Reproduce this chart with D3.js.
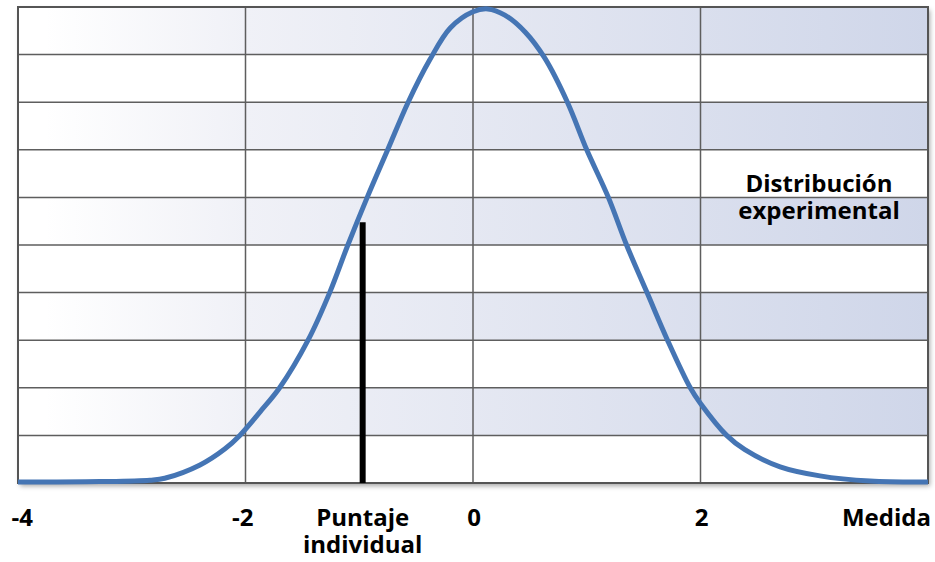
<!DOCTYPE html>
<html>
<head>
<meta charset="utf-8">
<script src="https://cdn.jsdelivr.net/npm/d3@7"></script>
<style>
  body { margin: 0; background: #fff; }
  text { font-family: "Open Sans", sans-serif; font-weight: 700; fill: #000; }
</style>
</head>
<body>
<script>
// curve: x in z units, y in grid bands (0..10)
var curveX = [-4.0, -3.28, -2.84, -2.71, -2.40, -2.18, -2.05, -1.87, -1.70, -1.45, -1.26, -1.10,
              -0.93, -0.75, -0.57, -0.38, -0.20, 0.0, 0.13, 0.28, 0.46, 0.63, 0.83, 1.0, 1.19, 1.35,
              1.53, 1.71, 1.91, 2.0, 2.23, 2.39, 2.70, 3.05, 3.49, 4.0];
var curveY = [0.02, 0.03, 0.06, 0.10, 0.38, 0.72, 1.0, 1.5, 2.0, 3.0, 4.0, 5.0,
              6.0, 7.0, 8.0, 8.89, 9.56, 9.9, 9.96, 9.83, 9.47, 8.93, 8.0, 7.0, 6.0, 5.0,
              4.0, 3.0, 2.0, 1.67, 1.0, 0.7, 0.34, 0.15, 0.04, 0.02];

var xTicks = [-4, -2, 0, 2];
var yBands = d3.range(0, 11); // 10 bands
var score = { x: -0.97, y: 5.48 };
var scoreLabel = ['Puntaje', 'individual'];
var curveLabel = ['Distribución', 'experimental'];

var width = 935, height = 562;
// plot box (note: "top" is reserved on window, so use pTop etc.)
var pLeft = 18, pRight = 928, pTop = 7, pBottom = 483;

var x = d3.scaleLinear().domain([-4, 4]).range([pLeft, pRight]);
var y = d3.scaleLinear().domain([0, 10]).range([pBottom, pTop]);

var svg = d3.select('body').append('svg')
  .attr('width', width)
  .attr('height', height);

var defs = svg.append('defs');

// gradient for the shaded bands
var grad = defs.append('linearGradient')
  .attr('id', 'band')
  .attr('gradientUnits', 'userSpaceOnUse')
  .attr('x1', pLeft).attr('x2', pRight).attr('y1', 0).attr('y2', 0);
grad.append('stop').attr('offset', '0.03').attr('stop-color', '#ffffff');
grad.append('stop').attr('offset', '0.25').attr('stop-color', '#f0f1f7');
grad.append('stop').attr('offset', '1').attr('stop-color', '#cfd6e9');

var shadow = defs.append('filter').attr('id', 'shadow')
  .attr('x', '-5%').attr('y', '-5%').attr('width', '110%').attr('height', '115%');
shadow.append('feDropShadow')
  .attr('dx', 2).attr('dy', 3).attr('stdDeviation', 2.5)
  .attr('flood-color', '#000').attr('flood-opacity', 0.35);

// plot background with shadow
svg.append('rect')
  .attr('x', pLeft).attr('y', pTop)
  .attr('width', pRight - pLeft).attr('height', pBottom - pTop)
  .attr('fill', '#fff')
  .attr('filter', 'url(#shadow)');

// shaded bands: every other one from the top
svg.append('g').selectAll('rect')
  .data(d3.range(0, 10).filter(function(i) { return i % 2 === 0; }))
  .enter().append('rect')
  .attr('x', pLeft)
  .attr('y', function(i) { return y(10 - i); })
  .attr('width', pRight - pLeft)
  .attr('height', function(i) { return y(9 - i) - y(10 - i); })
  .attr('fill', 'url(#band)');

// horizontal grid
svg.append('g').selectAll('line')
  .data(yBands)
  .enter().append('line')
  .attr('x1', pLeft).attr('x2', pRight)
  .attr('y1', function(d) { return y(d); })
  .attr('y2', function(d) { return y(d); })
  .attr('stroke', '#5e5e5e')
  .attr('stroke-width', 1.5);

// vertical grid
svg.append('g').selectAll('line')
  .data(xTicks.concat([4]))
  .enter().append('line')
  .attr('x1', function(d) { return x(d); })
  .attr('x2', function(d) { return x(d); })
  .attr('y1', pTop).attr('y2', pBottom)
  .attr('stroke', '#5e5e5e')
  .attr('stroke-width', 1.5);

// border
svg.append('rect')
  .attr('x', pLeft).attr('y', pTop)
  .attr('width', pRight - pLeft).attr('height', pBottom - pTop)
  .attr('fill', 'none')
  .attr('stroke', '#555')
  .attr('stroke-width', 2);

// individual score marker
svg.append('line')
  .attr('x1', x(score.x)).attr('x2', x(score.x))
  .attr('y1', y(score.y)).attr('y2', y(0))
  .attr('stroke', '#000')
  .attr('stroke-width', 6);

// distribution curve
var line = d3.line()
  .x(function(d, i) { return x(curveX[i]); })
  .y(function(d) { return y(d); })
  .curve(d3.curveCatmullRom.alpha(0.5));

svg.append('path')
  .datum(curveY)
  .attr('d', line)
  .attr('fill', 'none')
  .attr('stroke', '#4575b4')
  .attr('stroke-width', 5)
  .attr('stroke-linecap', 'butt');

// x tick labels
svg.append('g').selectAll('text')
  .data(xTicks)
  .enter().append('text')
  .attr('x', function(d) { return Math.max(x(d) + 8, 33); })
  .attr('y', 526)
  .attr('text-anchor', 'end')
  .style('font-size', '24px')
  .text(function(d) { return d; });

svg.append('text')
  .attr('x', 931).attr('y', 526)
  .attr('text-anchor', 'end')
  .style('font-size', '24px')
  .text('Medida');

// two-line labels as one text with tspans
function twoLines(lines, cx, baseY) {
  var t = svg.append('text')
    .attr('text-anchor', 'middle')
    .style('font-size', '24px');
  t.selectAll('tspan')
    .data(lines)
    .enter().append('tspan')
    .attr('x', cx)
    .attr('y', function(d, i) { return baseY + i * 27; })
    .text(function(d) { return d; });
}

twoLines(scoreLabel, x(score.x), 526);
twoLines(curveLabel, 819, 192);
</script>
</body>
</html>
